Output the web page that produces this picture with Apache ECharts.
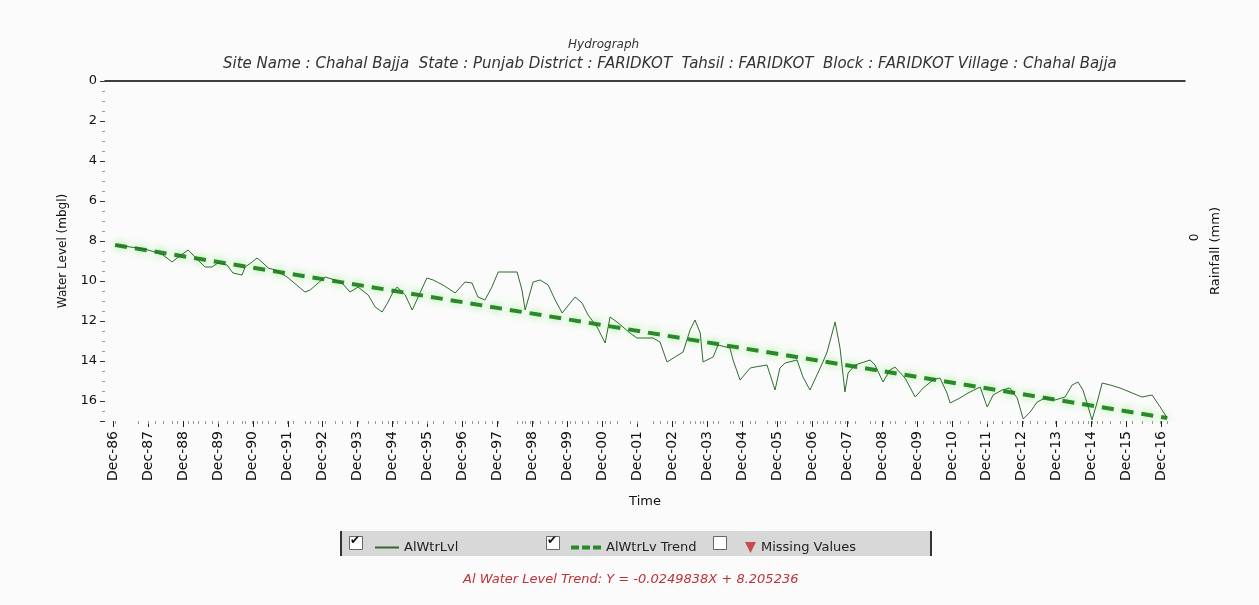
<!DOCTYPE html>
<html>
<head>
<meta charset="utf-8">
<title>Hydrograph</title>
<script src="https://cdn.jsdelivr.net/npm/echarts@6/dist/echarts.min.js"></script>
<style>
    html, body { margin: 0; padding: 0; background: #fbfbfb; }
    #main { width: 1259px; height: 605px; }
</style>
</head>
<body>
<div id="main"></div>
<script>
    // tick labels on the time axis (one per December)
    var tickLabels = ['Dec-86', 'Dec-87', 'Dec-88', 'Dec-89', 'Dec-90', 'Dec-91', 'Dec-92', 'Dec-93',
        'Dec-94', 'Dec-95', 'Dec-96', 'Dec-97', 'Dec-98', 'Dec-99', 'Dec-00', 'Dec-01', 'Dec-02',
        'Dec-03', 'Dec-04', 'Dec-05', 'Dec-06', 'Dec-07', 'Dec-08', 'Dec-09', 'Dec-10', 'Dec-11',
        'Dec-12', 'Dec-13', 'Dec-14', 'Dec-15', 'Dec-16'];
    var firstTick = 1986.96;

    var obsTime = [1987.02, 1987.68, 1987.96, 1988.16, 1988.39, 1988.65, 1988.79, 1989.11, 1989.25, 1989.39,
        1989.59, 1989.79, 1989.96, 1990.22, 1990.39, 1990.65, 1990.74, 1990.94, 1991.08, 1991.22,
        1991.40, 1991.60, 1991.94, 1992.11, 1992.45, 1992.60, 1992.83, 1993.03, 1993.31, 1993.51,
        1993.74, 1993.97, 1994.26, 1994.46, 1994.66, 1994.83, 1994.97, 1995.09, 1995.32, 1995.52,
        1995.69, 1995.94, 1996.12, 1996.40, 1996.75, 1997.03, 1997.23, 1997.40, 1997.60, 1997.80,
        1997.98, 1998.52, 1998.66, 1998.75, 1998.89, 1998.98, 1999.18, 1999.41, 1999.61, 1999.81,
        2000.04, 2000.18, 2000.38, 2000.55, 2000.81, 2001.04, 2001.18, 2001.38, 2001.75, 2001.95,
        2002.41, 2002.61, 2002.81, 2003.04, 2003.27, 2003.47, 2003.61, 2003.76, 2003.84, 2004.13,
        2004.27, 2004.61, 2004.70, 2004.90, 2005.19, 2005.33, 2005.67, 2005.90, 2006.04, 2006.19,
        2006.53, 2006.70, 2006.90, 2007.10, 2007.27, 2007.39, 2007.62, 2007.76, 2007.90, 2007.99,
        2008.19, 2008.62, 2008.76, 2008.99, 2009.19, 2009.33, 2009.62, 2009.91, 2010.14, 2010.42,
        2010.62, 2010.82, 2010.91, 2011.19, 2011.42, 2011.77, 2011.97, 2012.14, 2012.40, 2012.62,
        2012.83, 2013.00, 2013.20, 2013.40, 2013.63, 2013.91, 2014.20, 2014.40, 2014.57, 2014.71,
        2014.86, 2014.97, 2015.11, 2015.26, 2015.49, 2015.77, 2016.12, 2016.40, 2016.69, 2016.92,
        2017.12];
    var waterLevel = [8.2, 8.35, 8.45, 8.55, 8.7, 9.05, 8.85, 8.45, 8.7, 8.95,
        9.3, 9.3, 9.1, 9.2, 9.6, 9.7, 9.3, 9.05, 8.85, 9.05,
        9.35, 9.45, 9.8, 10.05, 10.55, 10.45, 10.1, 9.8, 9.95, 10.1,
        10.55, 10.3, 10.7, 11.3, 11.55, 11.05, 10.55, 10.3, 10.7, 11.45,
        10.8, 9.85, 9.95, 10.2, 10.6, 10.05, 10.1, 10.8, 10.95, 10.3,
        9.55, 9.55, 10.45, 11.45, 10.6, 10.05, 9.95, 10.2, 10.95, 11.6,
        11.1, 10.8, 11.1, 11.7, 12.3, 13.1, 11.8, 12.05, 12.6, 12.85,
        12.85, 13.05, 14.05, 13.8, 13.55, 12.45, 11.95, 12.6, 14.05, 13.8,
        13.2, 13.35, 13.95, 14.95, 14.35, 14.3, 14.2, 15.45, 14.35, 14.1,
        13.95, 14.8, 15.45, 14.7, 14.05, 13.55, 12.05, 13.35, 15.55, 14.6,
        14.2, 13.95, 14.2, 15.05, 14.45, 14.3, 14.85, 15.8, 15.35, 14.95,
        14.85, 15.6, 16.1, 15.85, 15.6, 15.3, 16.3, 15.7, 15.45, 15.35,
        15.85, 16.9, 16.55, 16.05, 15.85, 15.95, 15.8, 15.2, 15.05, 15.45,
        16.3, 16.95, 16.1, 15.1, 15.2, 15.35, 15.6, 15.8, 15.7, 16.3,
        16.85];

    // trend line end points
    var trendTime = [1987.02, 2017.12];
    var trendLevel = [8.2, 16.85];

    var tickYears = tickLabels.map(function (l, i) { return firstTick + i; });

    function pairs(xs, ys) {
        var res = [];
        for (var i = 0; i < xs.length; i++) {
            res.push([xs[i], ys[i]]);
        }
        return res;
    }

    var font = 'DejaVu Sans';
    var myChart = echarts.init(document.getElementById('main'));

    var option = {
        backgroundColor: '#fbfbfb',
        animation: false,
        title: [
            {
                text: 'Hydrograph',
                left: 563,
                top: 34,
                textStyle: {fontFamily: font, fontSize: 12, fontStyle: 'italic', fontWeight: 'normal', color: '#333'}
            },
            {
                text: 'Site Name : Chahal Bajja  State : Punjab District : FARIDKOT  Tahsil : FARIDKOT  Block : FARIDKOT Village : Chahal Bajja',
                left: 218,
                top: 52,
                textStyle: {fontFamily: font, fontSize: 15, fontStyle: 'italic', fontWeight: 'normal', color: '#333'}
            },
            {
                text: 'Al Water Level Trend: Y = -0.0249838X + 8.205236',
                left: 458,
                top: 568,
                textStyle: {fontFamily: font, fontSize: 13, fontStyle: 'italic', fontWeight: 'normal', color: '#c0303a'}
            }
        ],
        grid: {left: 105, right: 74, top: 81, bottom: 184},
        legend: [
            {
                data: [{name: 'AlWtrLvl', icon: 'rect'}],
                left: 370, top: 536, itemWidth: 24, itemHeight: 2, itemGap: 0,
                textStyle: {fontFamily: font, fontSize: 13, color: '#222'}
            },
            {
                data: [{name: 'AlWtrLv Trend', icon: 'path://M0,0h8v4h-8z M11,0h8v4h-8z M22,0h8v4h-8z'}],
                left: 566, top: 536, itemWidth: 30, itemHeight: 4, itemGap: 0,
                textStyle: {fontFamily: font, fontSize: 13, color: '#222'}
            },
            {
                data: [{name: 'Missing Values', icon: 'path://M0,0L10,0L5,10Z'}],
                left: 740, top: 536, itemWidth: 11, itemHeight: 11, itemGap: 0,
                textStyle: {fontFamily: font, fontSize: 13, color: '#222'}
            }
        ],
        graphic: [
            {type: 'rect', left: 340, top: 531, z: -1, shape: {width: 592, height: 25}, style: {fill: '#d8d8d8'}},
            {type: 'rect', left: 340, top: 531, z: -1, shape: {width: 2, height: 25}, style: {fill: '#333'}},
            {type: 'rect', left: 930, top: 531, z: -1, shape: {width: 2, height: 25}, style: {fill: '#333'}},
            {type: 'rect', left: 349, top: 536, shape: {width: 13, height: 13}, style: {fill: '#fff', stroke: '#666', lineWidth: 1}},
            {type: 'text', left: 350, top: 535, style: {text: '✔', fill: '#111', font: 'bold 12px DejaVu Sans'}},
            {type: 'rect', left: 546, top: 536, shape: {width: 13, height: 13}, style: {fill: '#fff', stroke: '#666', lineWidth: 1}},
            {type: 'text', left: 547, top: 535, style: {text: '✔', fill: '#111', font: 'bold 12px DejaVu Sans'}},
            {type: 'rect', left: 713, top: 536, shape: {width: 13, height: 13}, style: {fill: '#fff', stroke: '#666', lineWidth: 1}}
        ],
        xAxis: [
            {
                type: 'value',
                min: 1986.73,
                max: 2017.63,
                name: 'Time',
                nameLocation: 'middle',
                nameGap: 74,
                nameTextStyle: {fontFamily: font, fontSize: 13, color: '#111'},
                axisLine: {show: false, onZero: false},
                splitLine: {show: false},
                axisTick: {show: true, customValues: tickYears, length: 6, lineStyle: {color: '#222'}},
                axisLabel: {
                    customValues: tickYears,
                    rotate: 90,
                    margin: 10,
                    fontFamily: font,
                    fontSize: 14,
                    color: '#111',
                    formatter: function (v) {
                        return tickLabels[Math.round(v - firstTick)] || '';
                    }
                }
            },
            {
                // small ticks at each observation
                type: 'value',
                min: 1986.73,
                max: 2017.63,
                position: 'bottom',
                axisLine: {show: false, onZero: false},
                splitLine: {show: false},
                axisLabel: {show: false},
                axisTick: {show: true, customValues: obsTime, length: 3, lineStyle: {color: '#999'}}
            },
            {
                // black line along the zero level at the top
                type: 'value',
                min: 1986.73,
                max: 2017.63,
                position: 'top',
                axisLine: {show: true, onZero: false, lineStyle: {color: '#000', width: 1.5}},
                axisTick: {show: false},
                axisLabel: {show: false},
                splitLine: {show: false}
            }
        ],
        yAxis: [
            {
                type: 'value',
                inverse: true,
                min: 0,
                max: 17,
                interval: 2,
                name: 'Water Level (mbgl)',
                nameLocation: 'middle',
                nameGap: 36,
                nameTextStyle: {fontFamily: font, fontSize: 12, color: '#111'},
                axisLine: {show: false},
                splitLine: {show: false},
                axisTick: {show: true, length: 5, lineStyle: {color: '#333'}},
                minorTick: {show: true, splitNumber: 4, length: 3, lineStyle: {color: '#999'}},
                axisLabel: {fontFamily: font, fontSize: 13, color: '#111', margin: 8, showMaxLabel: false}
            },
            {
                type: 'value',
                position: 'right',
                min: -1.08,
                max: 0.92,
                name: 'Rainfall (mm)',
                nameLocation: 'middle',
                nameRotate: 90,
                nameGap: 22,
                nameTextStyle: {fontFamily: font, fontSize: 13, color: '#111'},
                axisLine: {show: false},
                axisTick: {show: false},
                splitLine: {show: false},
                axisLabel: {
                    customValues: [0],
                    rotate: 90,
                    margin: 4,
                    fontFamily: font,
                    fontSize: 12,
                    color: '#111'
                }
            }
        ],
        series: [
            {
                name: 'AlWtrLvl',
                type: 'line',
                symbol: 'none',
                data: pairs(obsTime, waterLevel),
                lineStyle: {color: '#2f6b2f', width: 1},
                itemStyle: {color: '#2f6b2f'},
                z: 3
            },
            {
                name: 'AlWtrLv Trend',
                type: 'line',
                symbol: 'none',
                data: pairs(trendTime, trendLevel),
                lineStyle: {
                    color: '#2a8a2a',
                    width: 4,
                    type: [12, 8],
                    shadowColor: 'rgba(110, 230, 90, 0.8)',
                    shadowBlur: 8
                },
                itemStyle: {color: '#2a8a2a'},
                z: 2
            },
            {
                name: 'Missing Values',
                type: 'scatter',
                symbol: 'path://M0,0L10,0L5,10Z',
                itemStyle: {color: '#c0282d'},
                data: []
            }
        ]
    };

    myChart.setOption(option);
</script>
</body>
</html>
